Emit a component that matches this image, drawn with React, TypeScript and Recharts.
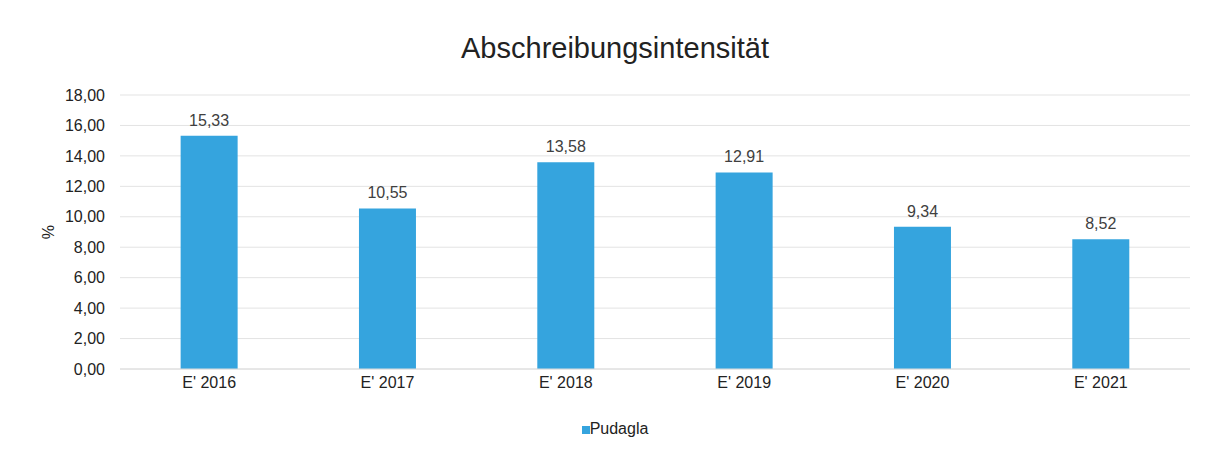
import { BarChart, Bar, XAxis, YAxis, CartesianGrid, Legend, LabelList } from "recharts";

const YEARS = ["E' 2016", "E' 2017", "E' 2018", "E' 2019", "E' 2020", "E' 2021"];
const PUDAGLA = [15.33, 10.55, 13.58, 12.91, 9.34, 8.52];
const Y_TICKS = [0, 2, 4, 6, 8, 10, 12, 14, 16, 18];

const FONT = "'Liberation Sans', Arial, sans-serif";
const fmt = (v: number) => v.toFixed(2).replace(".", ",");

export default function App() {
  const data = YEARS.map((year, i) => ({ year, pudagla: PUDAGLA[i] }));

  return (
    <div style={{ position: "absolute", left: 0, top: 0, width: 1222, height: 457, background: "#fff", fontFamily: FONT }}>
      {/* Titel */}
      <div
        style={{
          position: "absolute",
          top: 30,
          left: 0,
          width: 1230,
          textAlign: "center",
          fontSize: 29,
          color: "#222",
          lineHeight: "36px",
        }}
      >
        Abschreibungsintensität
      </div>
      <BarChart
        width={1222}
        height={457}
        data={data}
        margin={{ top: 95, right: 32, left: 0, bottom: 58 }}
        barCategoryGap="34%"
        style={{ fontFamily: FONT }}
      >
        <CartesianGrid vertical={false} stroke="#e3e3e3" />
        <XAxis
          dataKey="year"
          height={30}
          tickLine={false}
          axisLine={{ stroke: "#dcdcdc" }}
          tick={{ fontSize: 16, fill: "#222" }}
        />
        <YAxis
          width={120}
          domain={[0, 18]}
          ticks={Y_TICKS}
          tickFormatter={fmt}
          axisLine={false}
          tickLine={false}
          tickSize={0}
          tickMargin={15}
          tick={{ fontSize: 16, fill: "#222" }}
          label={{ value: "%", angle: -90, position: "insideLeft", offset: 48, style: { fontSize: 16, fill: "#222", textAnchor: "middle" } }}
        />
        <Legend
          layout="horizontal"
          verticalAlign="middle"
          align="center"
          iconType="square"
          iconSize={8}
          wrapperStyle={{ top: 420, left: 0, width: 1240, fontSize: 16 }}
          formatter={(v) => <span style={{ color: "#222", marginLeft: -4 }}>{v}</span>}
        />
        <Bar dataKey="pudagla" name="Pudagla" fill="#35a4de" isAnimationActive={false}>
          <LabelList dataKey="pudagla" position="top" offset={10} formatter={(v) => fmt(Number(v))} style={{ fontSize: 16, fill: "#404040" }} />
        </Bar>
      </BarChart>
    </div>
  );
}
